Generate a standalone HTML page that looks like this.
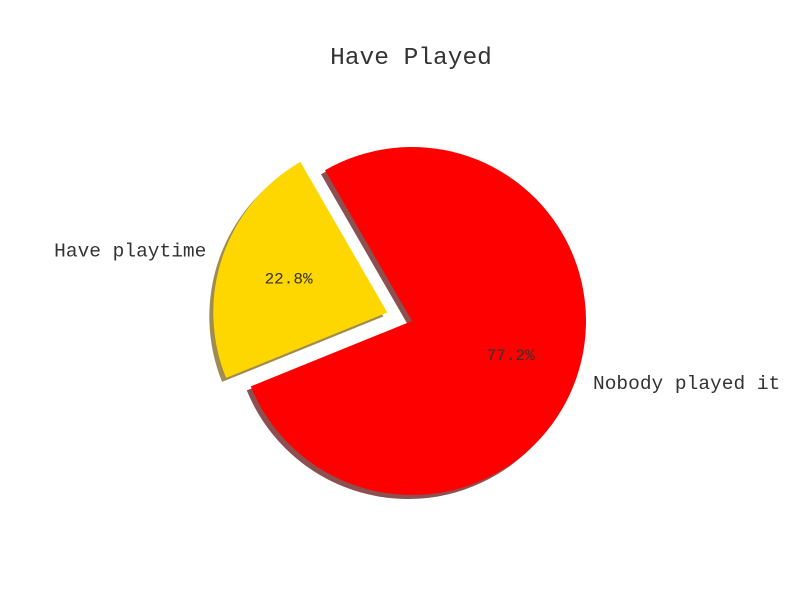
<!DOCTYPE html>
<html><head><meta charset="utf-8"><style>
html,body{margin:0;padding:0;background:#fff;}
svg{display:block;}
text{font-family:"Liberation Mono","DejaVu Sans Mono",monospace;fill:#333;}
</style></head><body>
<svg id="chart" width="800" height="600" viewBox="0 0 800 600">
<rect width="800" height="600" fill="#fff"/>
<text x="411" y="64" text-anchor="middle" font-size="24.5">Have Played</text>
<g id="slices"></g>
</svg>
<script>
const labels = ["Have playtime", "Nobody played it"];
const values = [22.8, 77.2];
const colors = ["#ffd700", "#ff0000"];
const shadowColors = ["#a08c50", "#8c5050"];
const explode = [0.15, 0];
const startAngle = 120;

const cx = 412, cy = 321, R = 174;
const g = document.getElementById('slices');
const NS = 'http://www.w3.org/2000/svg';
const total = values.reduce((a,b)=>a+b,0);
function pt(x,y,r,deg){const a=deg*Math.PI/180;return [x+r*Math.cos(a), y-r*Math.sin(a)];}
function wedge(x,y,a1,a2){
  const p1=pt(x,y,R,a1), p2=pt(x,y,R,a2);
  const large=(a2-a1)>180?1:0;
  return `M${x},${y} L${p1[0]},${p1[1]} A${R},${R} 0 ${large} 0 ${p2[0]},${p2[1]} Z`;
}
let ang = startAngle;
const geo = [];
values.forEach((v,i)=>{
  const sweep = v/total*360;
  const a1 = ang, a2 = ang+sweep, mid=(a1+a2)/2;
  const [ex,ey] = pt(cx,cy,explode[i]*R,mid);
  geo.push({a1,a2,mid,ex,ey});
  ang = a2;
});
geo.forEach((s,i)=>{
  const sh=document.createElementNS(NS,'path');
  sh.setAttribute('d',wedge(s.ex-4,s.ey+4,s.a1,s.a2));
  sh.setAttribute('fill',shadowColors[i]);
  
  
  g.appendChild(sh);
});
geo.forEach((s,i)=>{
  const p=document.createElementNS(NS,'path');
  p.setAttribute('d',wedge(s.ex,s.ey,s.a1,s.a2));
  p.setAttribute('fill',colors[i]);
  
  
  g.appendChild(p);
  const [lx,ly]=pt(s.ex,s.ey,1.1*R,s.mid);
  const t=document.createElementNS(NS,'text');
  t.setAttribute('x',lx);t.setAttribute('y',ly+6);
  t.setAttribute('font-size','19.5');
  t.setAttribute('text-anchor',Math.cos(s.mid*Math.PI/180)<0?'end':'start');
  t.textContent=labels[i];
  
  
  g.appendChild(t);
  const [px,py]=pt(s.ex,s.ey,0.6*R,s.mid);
  const q=document.createElementNS(NS,'text');
  q.setAttribute('x',px);q.setAttribute('y',py+5);
  q.setAttribute('font-size','16');
  q.setAttribute('text-anchor','middle');
  q.textContent=values[i].toFixed(1)+'%';
  
  
  g.appendChild(q);
});
</script>
</body></html>
